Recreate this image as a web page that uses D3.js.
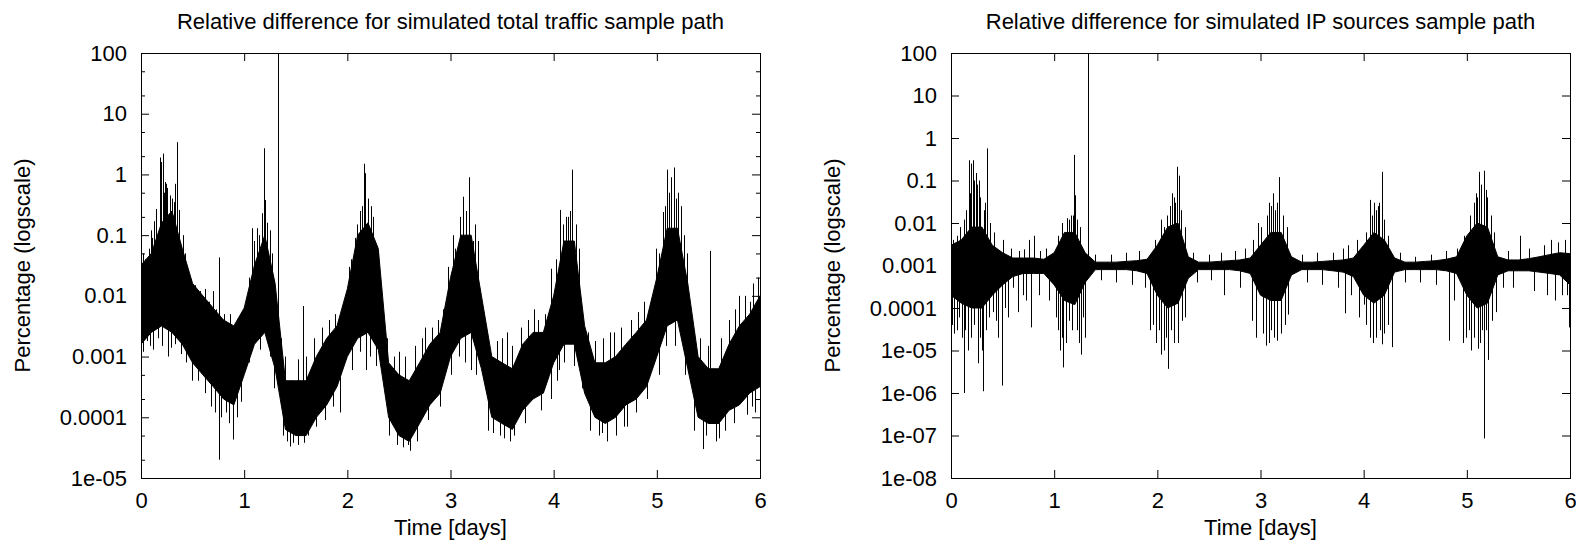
<!DOCTYPE html>
<html>
<head>
<meta charset="utf-8">
<title>Relative difference</title>
<script src="https://cdn.jsdelivr.net/npm/d3@7"></script>
<style>
  body { margin: 0; background: #fff; }
  text { font-family: "Liberation Sans", Arial, sans-serif; font-size: 22px; fill: #000; }
</style>
</head>
<body>
<script>
var days = [0,0.1,0.2,0.3,0.4,0.5,0.6,0.7,0.8,0.9,1,1.1,1.2,1.3,1.4,1.5,1.6,1.7,1.8,1.9,
  2,2.1,2.2,2.3,2.4,2.5,2.6,2.7,2.8,2.9,3,3.1,3.2,3.3,3.4,3.5,3.6,3.7,3.8,3.9,
  4,4.1,4.2,4.3,4.4,4.5,4.6,4.7,4.8,4.9,5,5.1,5.2,5.3,5.4,5.5,5.6,5.7,5.8,5.9,6];

// total traffic: upper / lower edge of the dense band (percent)
var trafficHi = [3.2e-2,5e-2,0.16,0.25,6e-2,1.6e-2,1e-2,6.3e-3,4e-3,3.2e-3,
  6.3e-3,3.2e-2,0.1,1.6e-2,4e-4,4e-4,4e-4,1e-3,2e-3,3.2e-3,
  1.3e-2,0.1,0.16,6e-2,7.9e-4,5e-4,4e-4,7.9e-4,1.6e-3,2.5e-3,
  2e-2,0.1,0.1,1e-2,1e-3,7.9e-4,6.3e-4,1.6e-3,2.5e-3,2.5e-3,
  1e-2,8e-2,8e-2,3.2e-3,7.9e-4,7.9e-4,1e-3,1.6e-3,2.5e-3,4e-3,
  2e-2,0.13,0.13,1.6e-2,1e-3,6.3e-4,6.3e-4,1.6e-3,3.2e-3,5e-3,1e-2];
var trafficLo = [1.6e-3,2.5e-3,3.2e-3,2.5e-3,1.6e-3,7.9e-4,5e-4,3.2e-4,2e-4,1.6e-4,
  5e-4,1.6e-3,2.5e-3,6.3e-4,6.3e-5,5e-5,5e-5,1e-4,1.6e-4,3.2e-4,
  1e-3,2e-3,2.5e-3,1.3e-3,1e-4,5e-5,4e-5,7.9e-5,1.6e-4,2.5e-4,
  1e-3,2e-3,2.5e-3,6.3e-4,1e-4,7.9e-5,6.3e-5,1.3e-4,2e-4,2.5e-4,
  7.9e-4,1.6e-3,1.6e-3,2.5e-4,1e-4,7.9e-5,1e-4,1.6e-4,2e-4,3.2e-4,
  1e-3,3.2e-3,4e-3,6.3e-4,1e-4,7.9e-5,7.9e-5,1.3e-4,1.6e-4,2.5e-4,3.2e-4];
// isolated spikes [day, percent]
var trafficSpikes = [
  [0.02,5e-2],[0.02,1.2e-3],[0.04,4e-2],[0.06,1.8e-3],[0.08,6e-2],[0.09,1.5e-3],[0.10,0.12],[0.11,9e-2],
  [0.12,1.3e-3],[0.13,0.17],[0.15,0.27],[0.16,2e-3],[0.18,1.9],[0.19,1.6],[0.20,1.5e-3],[0.21,2.2],
  [0.22,0.5],[0.23,0.75],[0.24,0.7],[0.25,0.6],[0.26,1e-3],[0.28,0.45],[0.29,1.4e-3],[0.30,0.4],
  [0.32,0.35],[0.33,0.7],[0.33,1.6e-3],[0.35,3.4],[0.37,0.26],[0.39,1.1e-3],[0.41,0.1],[0.43,5e-2],
  [0.44,8e-4],[0.48,1.9e-2],[0.49,4e-4],[0.52,1.5e-2],[0.55,4e-4],[0.57,1.2e-2],[0.62,1.3e-2],[0.62,2.5e-4],
  [0.66,8e-3],[0.68,1.5e-4],[0.70,1.2e-2],[0.72,1.2e-4],[0.73,6e-3],[0.755,2e-5],[0.76,4.3e-2],[0.78,1e-4],
  [0.80,5e-3],[0.82,1.2e-4],[0.85,8e-5],[0.86,5e-3],[0.89,4.3e-5],[0.93,1e-4],[0.95,4e-3],[0.97,1.8e-4],
  [1.05,2e-2],[1.05,8e-4],[1.08,0.13],[1.10,8e-2],[1.12,0.13],[1.14,0.1],[1.15,1.3e-3],[1.17,0.23],
  [1.19,2.7],[1.20,0.38],[1.22,0.16],[1.25,0.12],[1.25,1e-3],[1.27,5e-2],[1.29,3e-4],[1.325,200],
  [1.36,2e-3],[1.38,5e-5],[1.40,1e-3],[1.42,4e-5],[1.44,3.3e-5],[1.47,3.8e-5],[1.52,9e-4],[1.52,3.5e-5],
  [1.57,6.8e-3],[1.58,3.8e-5],[1.60,1e-3],[1.62,5e-5],[1.68,2e-3],[1.70,7e-5],[1.75,3e-3],[1.78,9e-5],
  [1.82,4e-3],[1.86,1.5e-4],[1.88,5e-3],[1.93,1.2e-4],[1.95,6e-3],
  [2.02,3e-2],[2.04,4e-2],[2.05,6e-4],[2.07,9e-2],[2.09,0.15],[2.12,0.25],[2.12,1.2e-3],[2.14,0.3],
  [2.16,1.5],[2.17,1.05],[2.18,6e-4],[2.20,0.4],[2.22,1e-3],[2.23,0.3],[2.25,0.2],[2.27,8e-2],
  [2.28,7e-4],[2.30,5e-2],[2.38,2e-3],[2.40,5e-5],[2.45,1e-3],[2.48,3.5e-5],[2.50,1.2e-3],[2.54,3.2e-5],
  [2.56,1e-3],[2.59,3.5e-5],[2.61,2.8e-5],[2.66,1.5e-3],[2.68,4e-5],[2.72,2e-3],[2.75,3e-3],[2.78,9e-5],
  [2.82,3e-3],[2.88,4e-3],[2.90,1.5e-4],[2.93,6e-3],
  [2.98,3e-2],[3.00,5e-4],[3.02,0.1],[3.04,6e-2],[3.06,4e-2],[3.08,1e-3],[3.09,0.2],[3.12,0.43],
  [3.14,8e-4],[3.15,0.25],[3.18,0.9],[3.20,6e-4],[3.22,8e-2],[3.24,0.15],[3.25,5e-4],[3.27,8e-2],
  [3.35,2.5e-3],[3.36,6e-5],[3.41,5.5e-5],[3.45,1.8e-3],[3.48,5e-5],[3.50,2e-3],[3.52,4.5e-5],[3.55,2.5e-3],
  [3.58,4e-5],[3.60,1.5e-3],[3.62,5e-5],[3.68,3e-3],[3.72,8e-5],[3.75,4e-3],[3.81,6e-3],[3.85,4e-3],
  [3.88,1.3e-4],[3.92,5e-3],[3.97,2e-4],[3.97,2.8e-2],
  [4.02,4e-2],[4.03,4e-4],[4.05,6e-4],[4.06,0.26],[4.09,0.15],[4.10,8e-4],[4.12,0.2],[4.14,0.2],
  [4.16,0.25],[4.18,1.2],[4.20,7e-4],[4.22,0.15],[4.25,6e-2],[4.27,3e-4],[4.33,2.5e-3],[4.35,6e-5],
  [4.40,1.8e-3],[4.44,5e-5],[4.47,5.5e-5],[4.48,2e-3],[4.52,4e-5],[4.55,2.5e-3],[4.58,2.5e-3],[4.60,5e-5],
  [4.65,3e-3],[4.68,7e-5],[4.71,7e-5],[4.75,4e-3],[4.80,1.2e-4],[4.82,5.4e-3],[4.88,8e-3],[4.90,2e-4],
  [4.92,6e-3],[4.99,6e-2],
  [5.02,5e-2],[5.02,5e-4],[5.06,0.24],[5.08,0.3],[5.09,1.5e-3],[5.10,1.2],[5.12,0.5],[5.14,0.9],
  [5.17,1.3],[5.18,1.5e-3],[5.19,0.4],[5.21,0.5],[5.23,0.3],[5.26,0.1],[5.27,5e-4],[5.29,5e-2],
  [5.34,4e-3],[5.36,6e-5],[5.42,2e-3],[5.45,3e-5],[5.48,5e-5],[5.50,1.5e-3],[5.52,5.5e-2],[5.57,4e-5],
  [5.60,4.5e-5],[5.62,2e-3],[5.66,6e-5],[5.70,4e-3],[5.75,8e-5],[5.76,6e-3],[5.80,1e-2],[5.85,1e-2],
  [5.87,1.1e-4],[5.90,8e-3],[5.92,1.5e-4],[5.93,1.6e-2],[5.95,1.2e-4],[5.98,2e-2]];

// IP sources: upper / lower edge of the dense band (percent)
var sourcesHi = [3e-3,4e-3,8e-3,8e-3,3e-3,2e-3,1.5e-3,1.5e-3,1.5e-3,1.4e-3,
  2e-3,6e-3,6e-3,2e-3,1.2e-3,1.2e-3,1.2e-3,1.25e-3,1.3e-3,1.4e-3,
  3e-3,8e-3,1e-2,1.6e-3,1.2e-3,1.2e-3,1.25e-3,1.3e-3,1.35e-3,1.5e-3,
  3e-3,6e-3,6e-3,1.6e-3,1.2e-3,1.2e-3,1.25e-3,1.3e-3,1.35e-3,1.5e-3,
  3e-3,6e-3,4e-3,1.5e-3,1.2e-3,1.2e-3,1.25e-3,1.3e-3,1.4e-3,1.6e-3,
  5e-3,1e-2,8e-3,1.6e-3,1.35e-3,1.35e-3,1.45e-3,1.6e-3,1.8e-3,2e-3,1.9e-3];
var sourcesLo = [2e-4,1.3e-4,1e-4,1e-4,2e-4,3.5e-4,5.5e-4,6.5e-4,6.5e-4,6.5e-4,
  3.5e-4,1.5e-4,1.2e-4,4e-4,8e-4,8e-4,8e-4,8e-4,7.5e-4,6.5e-4,
  2e-4,1e-4,1.3e-4,5e-4,8e-4,8e-4,8e-4,8e-4,7.5e-4,6.5e-4,
  2e-4,1.5e-4,1.5e-4,6e-4,8e-4,8e-4,8e-4,7.5e-4,7e-4,5.5e-4,
  2e-4,1.3e-4,2e-4,7e-4,8e-4,8e-4,8e-4,8e-4,7.5e-4,6.5e-4,
  2e-4,1e-4,1.3e-4,6e-4,7.5e-4,7.5e-4,7.5e-4,7e-4,6.5e-4,6e-4,3.5e-4];
var sourcesSpikes = [
  [0.01,4e-5],[0.02,4e-3],[0.03,2.5e-5],[0.06,5e-3],[0.06,3e-5],[0.08,6e-5],[0.09,8e-3],[0.11,2e-5],
  [0.123,1e-6],[0.13,1.2e-2],[0.14,3e-5],[0.15,2e-2],[0.16,1e-5],[0.17,0.3],[0.18,5e-2],[0.19,0.25],
  [0.19,2e-5],[0.21,0.3],[0.22,0.1],[0.22,4e-5],[0.24,0.15],[0.25,8e-2],[0.26,5e-6],[0.27,0.1],
  [0.28,4e-2],[0.28,2e-5],[0.30,1e-5],[0.31,1.1e-6],[0.32,2e-2],[0.33,3e-2],[0.34,3e-5],[0.35,0.57],
  [0.37,6e-5],[0.38,1e-2],[0.41,8e-5],[0.42,6e-3],[0.44,5e-5],[0.46,2e-5],[0.49,1.5e-6],[0.50,4e-3],
  [0.52,1e-4],[0.55,6e-5],[0.58,2.5e-3],[0.60,3e-4],[0.65,8e-5],[0.66,2.2e-3],[0.70,2e-4],[0.71,2.4e-3],
  [0.73,1.5e-4],[0.76,4e-3],[0.775,3.5e-5],[0.80,5e-3],[0.85,2e-4],[0.86,2.2e-3],[0.92,2.5e-3],[0.95,1.5e-4],
  [1.02,6e-5],[1.04,5e-3],[1.04,3e-5],[1.06,1e-5],[1.08,1e-2],[1.08,2e-5],[1.09,4e-6],[1.11,1.5e-5],
  [1.12,1.3e-2],[1.14,1.2e-2],[1.14,5e-5],[1.16,1.5e-2],[1.17,3e-5],[1.18,1.5e-2],[1.19,0.4],[1.20,4.5e-2],
  [1.22,1.2e-2],[1.22,3e-5],[1.24,1.5e-5],[1.25,8e-3],[1.26,8e-6],[1.28,6e-5],[1.30,2e-5],[1.33,200],
  [1.40,1.8e-3],[1.45,4.5e-4],[1.55,1.8e-3],[1.60,4e-4],[1.70,2e-3],[1.75,3.5e-4],[1.82,2.2e-3],[1.88,3e-4],
  [1.93,3e-5],[1.96,4e-5],[1.98,4e-3],[1.99,1.5e-5],[2.02,3e-5],[2.04,1.2e-2],[2.04,8e-6],[2.06,8e-3],
  [2.06,1e-5],[2.08,2e-5],[2.09,1.5e-2],[2.10,3.7e-6],[2.12,2.5e-2],[2.13,3e-5],[2.14,5e-2],[2.16,4e-2],
  [2.16,1.5e-5],[2.17,3e-2],[2.19,0.21],[2.20,1.5e-5],[2.21,0.13],[2.23,2e-2],[2.24,5e-5],[2.27,8e-3],
  [2.27,6e-5],[2.35,2e-3],[2.38,4e-4],[2.50,1.8e-3],[2.52,4.5e-4],[2.62,2e-3],[2.65,2e-4],[2.75,2.2e-3],
  [2.80,3e-4],[2.85,2.5e-3],[2.92,5e-5],[2.93,4e-3],[2.96,2e-5],[2.98,1e-2],[3.00,8e-3],[3.02,2.5e-5],
  [3.05,1.3e-5],[3.06,1.5e-2],[3.08,3e-2],[3.08,1.5e-5],[3.10,3e-5],[3.10,2.5e-2],[3.12,5e-2],[3.13,2e-5],
  [3.14,2e-2],[3.16,3e-2],[3.16,1.7e-5],[3.18,0.12],[3.20,2.5e-5],[3.22,1.5e-2],[3.24,4e-5],[3.26,8e-3],
  [3.27,7e-5],[3.40,1.8e-3],[3.45,4e-4],[3.55,2e-3],[3.60,3.5e-4],[3.70,2e-3],[3.75,3e-4],[3.80,2.5e-3],
  [3.82,7.5e-5],[3.85,3e-3],[3.88,2e-4],[3.94,4e-3],[3.95,6e-5],[4.00,1.2e-4],[4.02,6e-3],[4.02,4e-5],
  [4.06,3.5e-2],[4.06,2e-5],[4.08,1.5e-2],[4.09,1.5e-5],[4.10,3e-2],[4.12,2e-2],[4.12,2e-5],[4.14,2.5e-2],
  [4.15,3e-2],[4.16,3e-5],[4.18,0.16],[4.18,1.4e-5],[4.20,1.2e-2],[4.20,2.5e-5],[4.24,5e-3],[4.24,4e-5],
  [4.27,1.2e-5],[4.35,2e-3],[4.40,4e-4],[4.50,1.6e-3],[4.55,4e-4],[4.65,1.8e-3],[4.70,3.5e-4],[4.80,2.2e-3],
  [4.83,1.7e-5],[4.88,1.5e-4],[4.90,2.5e-3],[4.96,1.5e-5],[4.97,5e-3],[4.99,2e-5],[5.02,3e-5],[5.03,1.5e-2],
  [5.04,1e-5],[5.05,6e-3],[5.07,3e-2],[5.07,2e-5],[5.09,5e-2],[5.10,4e-2],[5.11,1.1e-5],[5.12,0.16],
  [5.13,1.5e-5],[5.14,8e-2],[5.15,3e-5],[5.17,0.17],[5.17,8.5e-8],[5.19,6e-2],[5.19,3e-5],[5.20,4e-2],
  [5.21,6e-6],[5.23,1.5e-2],[5.24,5e-5],[5.26,6e-3],[5.28,8e-5],[5.35,3e-4],[5.40,2.2e-3],[5.45,3e-4],
  [5.52,5e-3],[5.60,2.5e-3],[5.65,2.5e-4],[5.75,3e-3],[5.78,2e-4],[5.82,4e-3],[5.85,1.5e-4],[5.88,3.5e-3],
  [5.92,2e-4],[5.95,4e-3],[5.97,2e-4],[5.99,3.5e-5]];

var xTicks = [0,1,2,3,4,5,6];
var trafficYTicks = [1e-5,1e-4,1e-3,1e-2,1e-1,1,10,100];
var trafficYLabels = ["1e-05","0.0001","0.001","0.01","0.1","1","10","100"];
var trafficMinor = [2e-5,5e-5,2e-4,5e-4,2e-3,5e-3,2e-2,5e-2,0.2,0.5,2,5,20,50];
var sourcesYTicks = [1e-8,1e-7,1e-6,1e-5,1e-4,1e-3,1e-2,1e-1,1,10,100];
var sourcesYLabels = ["1e-08","1e-07","1e-06","1e-05","0.0001","0.001","0.01","0.1","1","10","100"];

var svg = d3.select("body").append("svg")
    .attr("width", 1576)
    .attr("height", 546);

function panel(id, left, right, yMin, yTicks, yLabels, minor, title, hi, lo, spikes) {
  var top = 53, bottom = 478;
  var x = d3.scaleLinear().domain([0, 6]).range([left, right]);
  var y = d3.scaleLog().domain([yMin, 100]).range([bottom, top]);
  var g = svg.append("g");

  g.append("clipPath").attr("id", id)
    .append("rect").attr("x", left).attr("y", top)
    .attr("width", right - left).attr("height", bottom - top);

  var data = g.append("g").attr("clip-path", "url(#" + id + ")");

  // dense band
  var band = d3.area()
    .x(function(d, i){ return x(days[i]); })
    .y0(function(d, i){ return y(lo[i]); })
    .y1(function(d, i){ return y(hi[i]); });
  data.append("path").datum(hi)
    .attr("d", band)
    .attr("fill", "#000")
    .attr("stroke", "#000")
    .attr("stroke-width", 1);

  // isolated spikes, drawn from the middle of the band
  data.selectAll("line.spike").data(spikes).enter().append("line")
    .attr("class", "spike")
    .attr("x1", function(d){ return Math.round(x(d[0])) + 0.5; })
    .attr("x2", function(d){ return Math.round(x(d[0])) + 0.5; })
    .attr("y1", function(d){
      var i = Math.round(d[0] * 10);
      return y(Math.sqrt(hi[i] * lo[i]));
    })
    .attr("y2", function(d){ return y(d[1]); })
    .attr("stroke", "#000")
    .attr("stroke-width", 1);

  // axes, ticks drawn inward
  g.append("g").attr("transform", "translate(" + left + ",0)")
    .call(d3.axisLeft(y).tickValues(yTicks)
      .tickFormat(function(d, i){ return yLabels[i]; })
      .tickSize(-8).tickPadding(14));
  g.append("g").attr("transform", "translate(" + right + ",0)")
    .call(d3.axisRight(y).tickValues(yTicks).tickFormat("").tickSize(-8));
  if (minor) {
    g.append("g").attr("transform", "translate(" + left + ",0)")
      .call(d3.axisLeft(y).tickValues(minor).tickFormat("").tickSize(-4));
    g.append("g").attr("transform", "translate(" + right + ",0)")
      .call(d3.axisRight(y).tickValues(minor).tickFormat("").tickSize(-4));
  }
  g.append("g").attr("transform", "translate(0," + bottom + ")")
    .call(d3.axisBottom(x).tickValues(xTicks).tickFormat(d3.format("d"))
      .tickSize(-8).tickPadding(14));
  g.append("g").attr("transform", "translate(0," + top + ")")
    .call(d3.axisTop(x).tickValues(xTicks).tickFormat("").tickSize(-8));

  g.selectAll(".domain").remove();
  g.selectAll(".tick line").attr("stroke", "#000");
  g.selectAll(".tick text").attr("font-size", 22)
    .attr("font-family", "Liberation Sans, Arial, sans-serif").attr("fill", "#000");

  g.append("rect")
    .attr("x", left + 0.5).attr("y", top + 0.5)
    .attr("width", right - left).attr("height", bottom - top)
    .attr("fill", "none").attr("stroke", "#000").attr("stroke-width", 1);

  g.append("text")
    .attr("x", (left + right) / 2).attr("y", 29)
    .attr("text-anchor", "middle")
    .text(title);
  g.append("text")
    .attr("x", (left + right) / 2).attr("y", 535)
    .attr("text-anchor", "middle")
    .text("Time [days]");
  g.append("text")
    .attr("transform", "translate(" + (left - 111.5) + "," + ((top + bottom) / 2) + ") rotate(-90)")
    .attr("text-anchor", "middle")
    .text("Percentage (logscale)");
}

panel("clipA", 141, 760, 1e-5, trafficYTicks, trafficYLabels, trafficMinor,
  "Relative difference for simulated total traffic sample path",
  trafficHi, trafficLo, trafficSpikes);
panel("clipB", 951, 1570, 1e-8, sourcesYTicks, sourcesYLabels, null,
  "Relative difference for simulated IP sources sample path",
  sourcesHi, sourcesLo, sourcesSpikes);
</script>
</body>
</html>
